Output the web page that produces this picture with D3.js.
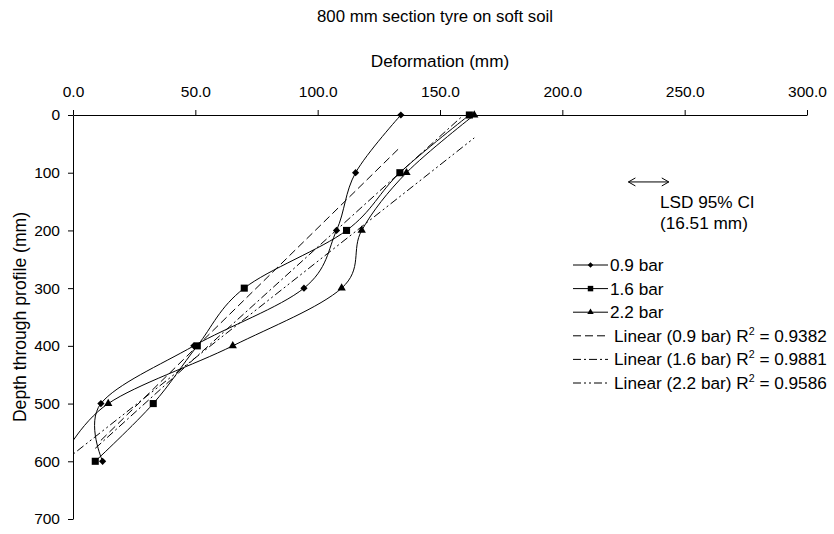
<!DOCTYPE html>
<html>
<head>
<meta charset="utf-8">
<script src="https://cdn.jsdelivr.net/npm/d3@7/dist/d3.min.js"></script>
<style>
  html, body { margin: 0; padding: 0; background: #fff; }
  svg { display: block; font-family: "Liberation Sans", Arial, sans-serif; }
</style>
</head>
<body>
<svg id="chart" width="834" height="534"></svg>
<script>
// ---- data ----
const depths = [0, 100, 200, 300, 400, 500, 600];
const bar09 = [134.0, 115.5, 107.7, 94.4, 49.4, 11.4, 12.1];
const bar16 = [162.0, 133.6, 111.8, 70.0, 50.8, 32.8, 9.1];
const bar22 = [164.0, 136.3, 118.0, 109.8, 65.3, 14.4, -5.0];
const seriesNames = ["0.9 bar", "1.6 bar", "2.2 bar"];
const trendNames = ["Linear (0.9 bar)", "Linear (1.6 bar)", "Linear (2.2 bar)"];
const r2Labels = ["0.9382", "0.9881", "0.9586"];
const xTicks = [0, 50, 100, 150, 200, 250, 300];
const yTicks = [0, 100, 200, 300, 400, 500, 600, 700];
const titleText = "800 mm section tyre on soft soil";
const xTitle = "Deformation (mm)";
const yTitle = "Depth through profile (mm)";
const lsdValue = 16.51;        // mm
const lsdStart = 227;          // deformation where arrow starts
const lsdDepth = 116;          // depth at which arrow drawn
const lsdLines = ["LSD 95% CI", "(16.51 mm)"];

// ---- layout ----
const svg = d3.select("#chart");
const L = 73, R = 807, T = 115, B = 519;
const FS_TICK = 15.5, FS = 17.2;
const x = d3.scaleLinear().domain([0, 300]).range([L, R]);
const y = d3.scaleLinear().domain([0, 700]).range([T, B]);

svg.append("defs").append("clipPath").attr("id", "plotclip")
  .append("rect").attr("x", L).attr("y", T).attr("width", R - L).attr("height", B - T);

// titles
svg.append("text").attr("x", 435).attr("y", 22).attr("text-anchor", "middle")
  .attr("font-size", 16.8).text(titleText);
svg.append("text").attr("x", (L + R) / 2).attr("y", 67).attr("text-anchor", "middle")
  .attr("font-size", FS).text(xTitle);
svg.append("text").attr("transform", `translate(26,${(T + B) / 2}) rotate(-90)`)
  .attr("text-anchor", "middle").attr("font-size", 17.6).text(yTitle);

// axes
const gx = svg.append("g").attr("transform", `translate(0,${T})`)
  .call(d3.axisTop(x).tickValues(xTicks).tickSize(5).tickSizeOuter(0).tickPadding(13)
    .tickFormat(d3.format(".1f")));
const gy = svg.append("g").attr("transform", `translate(${L},0)`)
  .call(d3.axisLeft(y).tickValues(yTicks).tickSize(5).tickSizeOuter(0).tickPadding(8)
    .tickFormat(d3.format("d")));
[gx, gy].forEach(g => {
  g.selectAll("text").attr("font-size", FS_TICK).attr("fill", "#000")
   .attr("font-family", "Liberation Sans, Arial, sans-serif");
  g.selectAll("line,path").attr("stroke", "#000").attr("stroke-width", 1);
});

// ---- series ----
const allSeries = [bar09, bar16, bar22];
const dashes = ["8,4", "8,3,2,3", "8,3,2,3,2,3"];
const plot = svg.append("g");
const clipped = plot.append("g").attr("clip-path", "url(#plotclip)");

// linear trendlines (depth regressed on deformation)
allSeries.forEach((vals, i) => {
  const n = vals.length;
  const mx = d3.mean(vals), my = d3.mean(depths);
  let sxy = 0, sxx = 0;
  for (let k = 0; k < n; k++) { sxy += (vals[k] - mx) * (depths[k] - my); sxx += (vals[k] - mx) ** 2; }
  const b = sxy / sxx, a = my - b * mx;
  const [x0, x1] = d3.extent(vals);
  clipped.append("line")
    .attr("x1", x(x0)).attr("y1", y(a + b * x0))
    .attr("x2", x(x1)).attr("y2", y(a + b * x1))
    .attr("stroke", "#000").attr("stroke-width", 1).attr("stroke-dasharray", dashes[i]);
});

const line = d3.line().x(d => x(d[0])).y(d => y(d[1])).curve(d3.curveCardinal.tension(0));
allSeries.forEach(vals => {
  const pts = vals.map((v, k) => [v, depths[k]]);
  clipped.append("path").attr("d", line(pts)).attr("fill", "none")
    .attr("stroke", "#000").attr("stroke-width", 1);
});

const symbols = [
  { type: d3.symbolSquare, size: 26, rot: 45 },
  { type: d3.symbolSquare, size: 50, rot: 0 },
  { type: d3.symbolTriangle, size: 30, rot: 0 }
];
allSeries.forEach((vals, i) => {
  const s = symbols[i];
  vals.forEach((v, k) => {
    if (v < 0 || v > 300) return;
    plot.append("path").attr("d", d3.symbol(s.type, s.size)())
      .attr("transform", `translate(${x(v)},${y(depths[k])}) rotate(${s.rot})`)
      .attr("fill", "#000");
  });
});

// ---- LSD annotation ----
const ax0 = x(lsdStart), ax1 = x(lsdStart + lsdValue), ay = y(lsdDepth);
svg.append("path")
  .attr("d", `M${ax0},${ay}H${ax1}M${ax0 + 7},${ay - 4}L${ax0},${ay}L${ax0 + 7},${ay + 4}M${ax1 - 7},${ay - 4}L${ax1},${ay}L${ax1 - 7},${ay + 4}`)
  .attr("fill", "none").attr("stroke", "#000").attr("stroke-width", 1);
lsdLines.forEach((t, i) => {
  svg.append("text").attr("x", 660).attr("y", 208 + i * 20.5).attr("font-size", FS).text(t);
});

// ---- legend ----
const lg = svg.append("g");
const rowY = k => 265 + k * 23.6;
allSeries.forEach((vals, i) => {
  const yy = rowY(i);
  lg.append("line").attr("x1", 573).attr("x2", 608).attr("y1", yy).attr("y2", yy)
    .attr("stroke", "#000").attr("stroke-width", 1);
  const s = symbols[i];
  lg.append("path").attr("d", d3.symbol(s.type, s.size * 0.6)())
    .attr("transform", `translate(590.5,${yy}) rotate(${s.rot})`).attr("fill", "#000");
  lg.append("text").attr("x", 610).attr("y", yy + 6).attr("font-size", FS).text(seriesNames[i]);
});
trendNames.forEach((nm, i) => {
  const yy = rowY(i + 3);
  lg.append("line").attr("x1", 573).attr("x2", 608).attr("y1", yy).attr("y2", yy)
    .attr("stroke", "#000").attr("stroke-width", 1).attr("stroke-dasharray", dashes[i]);
  const t = lg.append("text").attr("x", 614).attr("y", yy + 6).attr("font-size", FS);
  t.append("tspan").text(nm + " R");
  t.append("tspan").attr("font-size", FS * 0.62).attr("dy", -7).text("2");
  t.append("tspan").attr("dy", 7).text(" = " + r2Labels[i]);
});
</script>
</body>
</html>
